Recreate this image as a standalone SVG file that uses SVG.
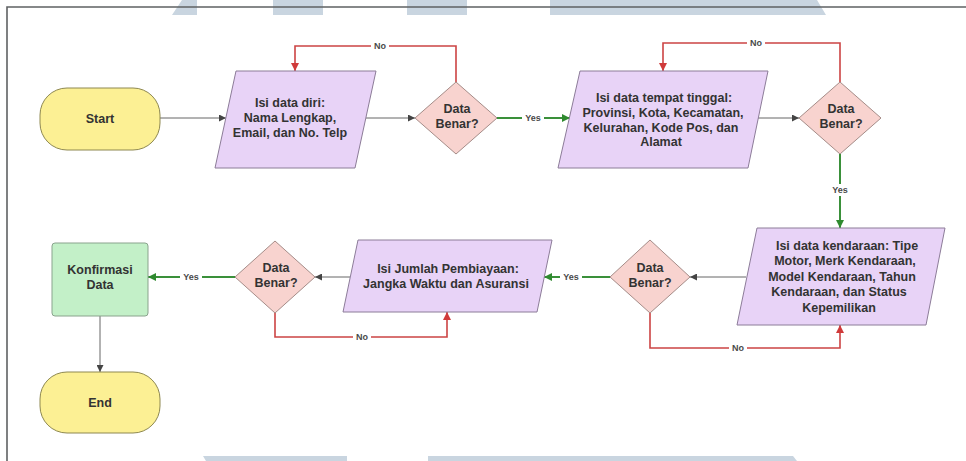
<svg xmlns="http://www.w3.org/2000/svg" width="966" height="461" viewBox="0 0 966 461">
  <style>
    .bg { fill: #ffffff; }
    .band { fill: #c9d5e0; }
    .frame { stroke: #5f6163; stroke-width: 1.6; fill: none; }
    .term { fill: #fcf094; stroke: #8e8850; stroke-width: 1; }
    .proc { fill: #c3f0c8; stroke: #8aa38d; stroke-width: 1; }
    .io { fill: #e8d3f7; stroke: #8c7c98; stroke-width: 1; stroke-linejoin: round; }
    .dec { fill: #f8d3cf; stroke: #a58c88; stroke-width: 1; stroke-linejoin: round; }
    .t { font-family: "Liberation Sans", Arial, sans-serif; font-size: 12.5px; font-weight: bold; fill: #333333; text-anchor: middle; }
    .plain { stroke: #666666; stroke-width: 1; fill: none; }
    .yes { stroke: #3a903a; stroke-width: 2; fill: none; }
    .no { stroke: #cc4444; stroke-width: 1.6; fill: none; }
    .lblbg { fill: #ffffff; }
    .lbl { font-family: "Liberation Sans", Arial, sans-serif; font-size: 9px; font-weight: bold; fill: #4a4a4a; text-anchor: middle; }
  </style>
  <defs>
    <marker id="ahGrey" viewBox="0 0 10 10" refX="10" refY="5" markerWidth="9" markerHeight="7" markerUnits="userSpaceOnUse" orient="auto">
      <path d="M0,0 L10,5 L0,10 z" fill="#444444"/>
    </marker>
    <marker id="ahGreen" viewBox="0 0 10 10" refX="10" refY="5" markerWidth="10" markerHeight="8" markerUnits="userSpaceOnUse" orient="auto">
      <path d="M0,0 L10,5 L0,10 z" fill="#2f8a2f"/>
    </marker>
    <marker id="ahRed" viewBox="0 0 10 10" refX="10" refY="5" markerWidth="10" markerHeight="8" markerUnits="userSpaceOnUse" orient="auto">
      <path d="M0,0 L10,5 L0,10 z" fill="#d03a3a"/>
    </marker>
  </defs>

  <rect class="bg" x="0" y="0" width="966" height="461"/>

  <!-- light background bands along top and bottom edges -->
  <g id="bands">
    <polygon class="band" points="182,0 197,0 197,15 172,15"/>
    <rect class="band" x="273" y="0" width="50" height="15"/>
    <rect class="band" x="407" y="0" width="60" height="15"/>
    <polygon class="band" points="550,0 817,0 826,15 550,15"/>
    <polygon class="band" points="203,456 347,456 347,461 206,461"/>
    <polygon class="band" points="428,456 793,456 797,461 428,461"/>
  </g>

  <!-- outer frame -->
  <path class="frame" d="M7,461 L7,7 L966,7"/>

  <!-- connectors -->
  <g id="connectors">
    <line class="plain" x1="160" y1="118" x2="226" y2="118" marker-end="url(#ahGrey)"/>
    <line class="plain" x1="366" y1="118" x2="415" y2="118" marker-end="url(#ahGrey)"/>
    <polyline class="no" points="456,82 456,46 295,46 295,71" marker-end="url(#ahRed)"/>
    <line class="yes" x1="497" y1="118" x2="570" y2="118" marker-end="url(#ahGreen)"/>
    <line class="plain" x1="758" y1="118" x2="799" y2="118" marker-end="url(#ahGrey)"/>
    <polyline class="no" points="840,82 840,43 663,43 663,71" marker-end="url(#ahRed)"/>
    <line class="yes" x1="840" y1="154" x2="840" y2="228" marker-end="url(#ahGreen)"/>
    <line class="plain" x1="746" y1="277" x2="690" y2="277" marker-end="url(#ahGrey)"/>
    <polyline class="no" points="650,313 650,348 840,348 840,325" marker-end="url(#ahRed)"/>
    <line class="yes" x1="610" y1="277" x2="544" y2="277" marker-end="url(#ahGreen)"/>
    <line class="plain" x1="350" y1="277" x2="315" y2="277" marker-end="url(#ahGrey)"/>
    <polyline class="no" points="275,313 275,337 447,337 447,312" marker-end="url(#ahRed)"/>
    <line class="yes" x1="235" y1="277" x2="148" y2="277" marker-end="url(#ahGreen)"/>
    <line class="plain" x1="100" y1="316" x2="100" y2="372" marker-end="url(#ahGrey)"/>

    <!-- connector labels -->
    <rect class="lblbg" x="371" y="41" width="18" height="10"/>
    <text class="lbl" x="380" y="49">No</text>
    <rect class="lblbg" x="522" y="113" width="22" height="10"/>
    <text class="lbl" x="533" y="121">Yes</text>
    <rect class="lblbg" x="747" y="38" width="18" height="10"/>
    <text class="lbl" x="756" y="46">No</text>
    <rect class="lblbg" x="829" y="184" width="22" height="12"/>
    <text class="lbl" x="840" y="193">Yes</text>
    <rect class="lblbg" x="729" y="343" width="18" height="10"/>
    <text class="lbl" x="738" y="351">No</text>
    <rect class="lblbg" x="560" y="272" width="22" height="10"/>
    <text class="lbl" x="571" y="280">Yes</text>
    <rect class="lblbg" x="353" y="332" width="18" height="10"/>
    <text class="lbl" x="362" y="340">No</text>
    <rect class="lblbg" x="180" y="272" width="22" height="10"/>
    <text class="lbl" x="191" y="280">Yes</text>
  </g>

  <!-- nodes -->
  <g id="start">
    <rect class="term" x="40" y="88" width="120" height="62" rx="27" ry="27"/>
    <text class="t" x="100" y="123">Start</text>
  </g>

  <g id="isi-data-diri">
    <polygon class="io" points="236,71 376,71 355,168 215,168"/>
    <text class="t" x="290" y="107">Isi data diri:</text>
    <text class="t" x="290" y="122">Nama Lengkap,</text>
    <text class="t" x="290" y="137">Email, dan No. Telp</text>
  </g>

  <g id="cek-data-diri">
    <polygon class="dec" points="456,82 497,118 456,154 415,118"/>
    <text class="t" x="457" y="113">Data</text>
    <text class="t" x="457" y="128">Benar?</text>
  </g>

  <g id="isi-tempat-tinggal">
    <polygon class="io" points="580,71 768,71 748,168 558,168"/>
    <text class="t" x="664" y="102">Isi data tempat tinggal:</text>
    <text class="t" x="663" y="117">Provinsi, Kota, Kecamatan,</text>
    <text class="t" x="661" y="132">Kelurahan, Kode Pos, dan</text>
    <text class="t" x="661" y="146">Alamat</text>
  </g>

  <g id="cek-tempat-tinggal">
    <polygon class="dec" points="840,82 881,118 840,154 799,118"/>
    <text class="t" x="841" y="113">Data</text>
    <text class="t" x="841" y="128">Benar?</text>
  </g>

  <g id="isi-kendaraan">
    <polygon class="io" points="757,228 945,228 926,325 737,325"/>
    <text class="t" x="847" y="250">Isi data kendaraan: Tipe</text>
    <text class="t" x="845" y="265">Motor, Merk Kendaraan,</text>
    <text class="t" x="842" y="281">Model Kendaraan, Tahun</text>
    <text class="t" x="839" y="296">Kendaraan, dan Status</text>
    <text class="t" x="839" y="312">Kepemilikan</text>
  </g>

  <g id="cek-kendaraan">
    <polygon class="dec" points="650,240 690,277 650,313 610,277"/>
    <text class="t" x="650" y="272">Data</text>
    <text class="t" x="650" y="287">Benar?</text>
  </g>

  <g id="isi-pembiayaan">
    <polygon class="io" points="358,240 552,240 537,312 343,312"/>
    <text class="t" x="448" y="273">Isi Jumlah Pembiayaan:</text>
    <text class="t" x="446" y="288">Jangka Waktu dan Asuransi</text>
  </g>

  <g id="cek-pembiayaan">
    <polygon class="dec" points="275,241 315,277 275,313 235,277"/>
    <text class="t" x="276" y="272">Data</text>
    <text class="t" x="276" y="287">Benar?</text>
  </g>

  <g id="konfirmasi">
    <rect class="proc" x="52" y="243" width="96" height="73" rx="3" ry="3"/>
    <text class="t" x="100" y="274">Konfirmasi</text>
    <text class="t" x="100" y="289">Data</text>
  </g>

  <g id="end">
    <rect class="term" x="40" y="372" width="120" height="61" rx="27" ry="27"/>
    <text class="t" x="100" y="407">End</text>
  </g>
</svg>
